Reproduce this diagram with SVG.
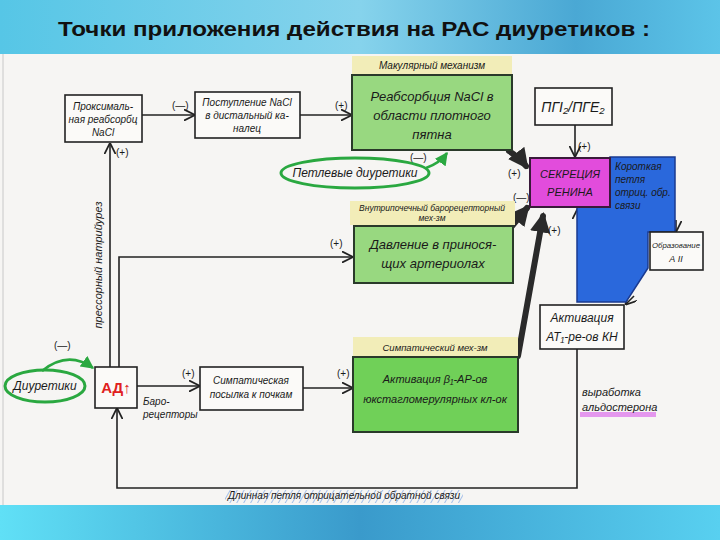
<svg xmlns="http://www.w3.org/2000/svg" width="720" height="540" viewBox="0 0 720 540">
<defs>
  <linearGradient id="hdr" x1="0" y1="0" x2="1" y2="0">
    <stop offset="0" stop-color="#56c6e6"/>
    <stop offset="0.5" stop-color="#86d3ec"/>
    <stop offset="0.8" stop-color="#4aa8d4"/>
    <stop offset="1" stop-color="#5cc4e8"/>
  </linearGradient>
  <linearGradient id="ftr" x1="0" y1="0" x2="1" y2="0">
    <stop offset="0" stop-color="#60e0f6"/>
    <stop offset="0.5" stop-color="#3a9acb"/>
    <stop offset="1" stop-color="#58d0f0"/>
  </linearGradient>
  <pattern id="hatch" width="6" height="6" patternUnits="userSpaceOnUse" patternTransform="rotate(30)">
    <line x1="0" y1="0" x2="0" y2="6" stroke="#5a8fe0" stroke-width="1.3"/>
  </pattern>
  <marker id="ah" viewBox="0 0 10 10" refX="9" refY="5" markerWidth="7" markerHeight="7" orient="auto-start-reverse">
    <path d="M0,0 L10,5 L0,10" fill="none" stroke="#222" stroke-width="1.6"/>
  </marker>
  <marker id="ahThick" viewBox="0 0 10 10" refX="8" refY="5" markerWidth="3.4" markerHeight="3.4" orient="auto">
    <path d="M0,0 L10,5 L0,10 Z" fill="#2a2a2a"/>
  </marker>
  <marker id="ahGreen" viewBox="0 0 10 10" refX="9" refY="5" markerWidth="5" markerHeight="5" orient="auto">
    <path d="M0,0 L10,5 L0,10 Z" fill="#2aa840"/>
  </marker>
  <style>
    .hand { font-family: "Liberation Sans", "DejaVu Sans", sans-serif; font-style: italic; fill: #1a1a1a; }
    .box { fill: #fbfaf8; stroke: #222; stroke-width: 1.6; }
    .gbox { fill: #98d880; stroke: #2a3a2a; stroke-width: 2; }
    .gbox2 { fill: #70d058; stroke: #2a3a2a; stroke-width: 2; }
    .strip { fill: #f2edb8; }
    .line { fill: none; stroke: #222; stroke-width: 1.6; }
    .thick { fill: none; stroke: #2a2a2a; stroke-width: 6; stroke-linecap: round; }
    .green { fill: none; stroke: #2aa840; stroke-width: 2.6; }
    .sign { font-family: "Liberation Sans", "DejaVu Sans", sans-serif; font-size: 10px; fill: #1a1a1a; }
    .c { text-anchor: middle; }
  </style>
</defs>

<!-- background -->
<rect x="0" y="0" width="720" height="56" fill="url(#hdr)"/>
<rect x="0" y="54" width="720" height="452" fill="#f6f5f3"/>
<line x1="3" y1="54" x2="3" y2="505" stroke="#c8c8c8" stroke-width="1"/>
<rect x="0" y="505" width="720" height="35" fill="url(#ftr)"/>

<text x="58" y="36" font-family="Liberation Sans, Arial, sans-serif" font-weight="bold" font-size="20" fill="#111" textLength="592" lengthAdjust="spacingAndGlyphs">Точки приложения действия на РАС диуретиков :</text>

<!-- connectors -->
<g id="connectors">
  <line class="line" x1="142" y1="115" x2="194" y2="115" marker-end="url(#ah)"/>
  <text class="sign" x="172" y="109">(—)</text>
  <line class="line" x1="300" y1="115" x2="351" y2="115" marker-end="url(#ah)"/>
  <text class="sign" x="335" y="109">(+)</text>

  <path class="green" d="M 426 168 Q 440 163 447 153" marker-end="url(#ahGreen)"/>
  <text class="sign" x="410" y="161" fill="#2a5a8a">(—)</text>

  <line class="line" x1="575" y1="125" x2="575" y2="156" marker-end="url(#ah)"/>
  <text class="sign" x="578" y="150" font-size="8">(+)</text>

  <path class="thick" d="M 509 151 Q 520 158 526 166" marker-end="url(#ahThick)"/>
  <text class="sign" x="508" y="177" font-size="13">(+)</text>
  <path class="thick" d="M 512 226 L 527 208" marker-end="url(#ahThick)"/>
  <text class="sign" x="513" y="201" font-size="13">(—)</text>
  <path class="thick" stroke-width="7" d="M 518 356 L 543 216" marker-end="url(#ahThick)"/>
  <text class="sign" x="548" y="234" font-size="13">(+)</text>

  <line class="line" x1="578" y1="242" x2="578" y2="209" marker-end="url(#ah)"/>
  <line class="line" x1="676" y1="220" x2="676" y2="231" marker-end="url(#ah)"/>
  <text class="sign" x="652" y="225" fill="#1a2a60">(+)</text>
  <line class="line" x1="634" y1="296" x2="626" y2="304" marker-end="url(#ah)"/>
  <text class="sign" x="608" y="293" fill="#1a2a60">(+)</text>

  <line class="line" x1="110" y1="367" x2="110" y2="144" marker-end="url(#ah)"/>
  <text class="sign" x="116" y="156" font-size="12">(+)</text>
  <text class="hand" font-size="11" transform="translate(102,265) rotate(-90)" text-anchor="middle">прессорный натрийурез</text>

  <path class="line" d="M 119 367 L 119 257 L 352 257" marker-end="url(#ah)"/>
  <text class="sign" x="330" y="247">(+)</text>

  <path class="green" d="M 42 371 Q 68 350 93 368" marker-end="url(#ahGreen)"/>
  <text class="sign" x="54" y="349" fill="#2a5a8a">(—)</text>

  <line class="line" x1="137" y1="386" x2="199" y2="386" marker-end="url(#ah)"/>
  <text class="sign" x="182" y="377">(+)</text>
  <text class="hand" font-size="10" x="143" y="405">Баро-</text>
  <text class="hand" font-size="10" x="143" y="418">рецепторы</text>

  <line class="line" x1="303" y1="388" x2="352" y2="388" marker-end="url(#ah)"/>
  <text class="sign" x="337" y="377">(+)</text>

  <path class="line" d="M 577 349 L 577 488 L 117 488 L 117 409" marker-end="url(#ah)"/>
  <rect x="225" y="490" width="238" height="13" fill="url(#hatch)" opacity="0.8"/>
  <text class="hand" font-size="10" x="228" y="499" textLength="232" lengthAdjust="spacingAndGlyphs">Длинная петля отрицательной обратной связи</text>

  <rect x="580" y="412" width="76" height="5" fill="#e080ec" opacity="0.8"/>
  <text class="hand" font-size="11" x="582" y="396">выработка</text>
  <text class="hand" font-size="11" x="582" y="411">альдостерона</text>
</g>

<!-- nodes -->
<g id="proximal">
  <rect class="box" x="65" y="95" width="77" height="47"/>
  <text class="hand c" font-size="10" x="103" y="110">Проксималь-</text>
  <text class="hand c" font-size="10" x="103" y="123">ная реабсорбц</text>
  <text class="hand c" font-size="10" x="103" y="136">NaCl</text>
</g>

<g id="distal">
  <rect class="box" x="195" y="92" width="105" height="46"/>
  <text class="hand c" font-size="10" x="247" y="106">Поступление NaCl</text>
  <text class="hand c" font-size="10" x="247" y="119">в дистальный ка-</text>
  <text class="hand c" font-size="10" x="247" y="132">налец</text>
</g>

<g id="macula">
  <rect class="strip" x="352" y="56" width="160" height="19"/>
  <text class="hand c" font-size="10" x="432" y="69">Макулярный механизм</text>
  <rect class="gbox" x="352" y="75" width="160" height="75"/>
  <text class="hand c" font-size="13" x="432" y="101">Реабсорбция NaCl в</text>
  <text class="hand c" font-size="13" x="432" y="120">области плотного</text>
  <text class="hand c" font-size="13" x="432" y="139">пятна</text>
</g>

<g id="loop-diuretics">
  <ellipse cx="355" cy="173" rx="74" ry="15" fill="none" stroke="#2aa840" stroke-width="3"/>
  <text class="hand c" font-size="12" x="355" y="177" fill="#1a5a6a">Петлевые диуретики</text>
</g>

<g id="pg">
  <rect class="box" x="535" y="88" width="77" height="37"/>
  <text class="hand c" font-size="14" x="573" y="112" font-style="normal">ПГI₂/ПГE₂</text>
</g>

<g id="short-loop">
  <polygon points="610,157 675,157 675,232 648,232 648,268 626,302 577,302 577,207 610,207" fill="#2a68dc" stroke="#1a3a90" stroke-width="1.5"/>
  <text class="hand" font-size="10" x="615" y="170" fill="#1a2a60">Короткая</text>
  <text class="hand" font-size="10" x="615" y="183" fill="#1a2a60">петля</text>
  <text class="hand" font-size="10" x="615" y="196" fill="#1a2a60">отриц. обр.</text>
  <text class="hand" font-size="10" x="615" y="209" fill="#1a2a60">связи</text>
</g>

<g id="renin">
  <rect x="530" y="158" width="80" height="49" fill="#e24cdc" stroke="#3a1a3a" stroke-width="2"/>
  <text class="hand c" font-size="11" x="570" y="178">СЕКРЕЦИЯ</text>
  <text class="hand c" font-size="11" x="570" y="196">РЕНИНА</text>
</g>

<g id="angiotensin">
  <rect class="box" x="650" y="232" width="53" height="38"/>
  <text class="hand c" font-size="8" x="676" y="248" textLength="48" lengthAdjust="spacingAndGlyphs">Образование</text>
  <text class="hand c" font-size="9" x="676" y="262">А II</text>
</g>

<g id="at1">
  <rect class="box" x="540" y="305" width="84" height="44"/>
  <text class="hand c" font-size="12" x="582" y="322">Активация</text>
  <text class="hand c" font-size="12" x="582" y="341">АТ₁-ре-ов КН</text>
</g>

<g id="arteriole">
  <rect class="strip" x="350" y="201" width="165" height="24"/>
  <text class="hand c" font-size="8.5" x="432" y="211">Внутрипочечный барорецепторный</text>
  <text class="hand c" font-size="8.5" x="432" y="221">мех-зм</text>
  <rect class="gbox" x="354" y="226" width="159" height="57"/>
  <text class="hand c" font-size="13" x="433" y="249">Давление в принося-</text>
  <text class="hand c" font-size="13" x="433" y="268">щих артериолах</text>
</g>

<g id="sympathetic">
  <rect class="box" x="200" y="367" width="103" height="43"/>
  <text class="hand c" font-size="10" x="251" y="384">Симпатическая</text>
  <text class="hand c" font-size="10" x="251" y="398">посылка к почкам</text>
</g>

<g id="beta1">
  <rect class="strip" x="353" y="337" width="165" height="20"/>
  <text class="hand c" font-size="9.5" x="435" y="351">Симпатический мех-зм</text>
  <rect class="gbox2" x="353" y="357" width="165" height="75"/>
  <text class="hand c" font-size="11" x="435" y="383">Активация β₁-АР-ов</text>
  <text class="hand c" font-size="11" x="435" y="403">юкстагломерулярных кл-ок</text>
</g>

<g id="bp">
  <rect class="box" x="95" y="367" width="42" height="41"/>
  <text x="116" y="393" text-anchor="middle" font-family="Liberation Sans, sans-serif" font-weight="bold" font-size="15" fill="#e02020">АД↑</text>
</g>

<g id="diuretics">
  <ellipse cx="45" cy="386" rx="40" ry="16" fill="none" stroke="#2aa840" stroke-width="3"/>
  <text class="hand c" font-size="12" x="45" y="390" fill="#1a5a6a">Диуретики</text>
</g>
</svg>
